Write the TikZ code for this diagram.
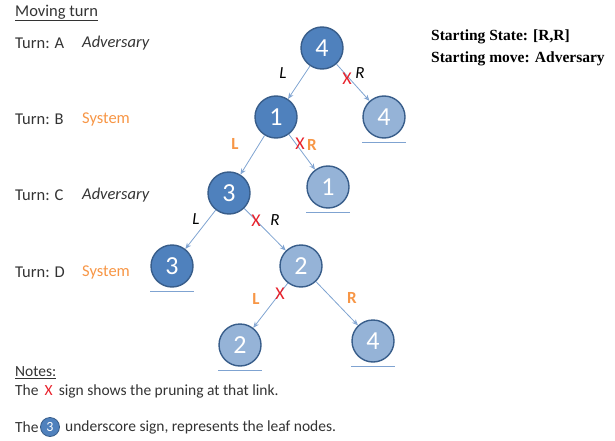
\documentclass[tikz,border=0pt]{standalone}
\usepackage{fontspec}
\setmainfont{Carlito}
\newfontfamily\headserif{Liberation Serif}
\usetikzlibrary{arrows.meta,calc}
\definecolor{darkfill}{HTML}{4F81BD}
\definecolor{lightfill}{HTML}{95B3D7}
\definecolor{nodeedge}{HTML}{385D8A}
\definecolor{linkcol}{HTML}{7FA3D1}
\definecolor{orangetxt}{HTML}{F79646}
\definecolor{redx}{HTML}{E8202A}
\tikzset{
  darknode/.style={circle,fill=darkfill,draw=nodeedge,line width=1.4pt,minimum size=42pt,inner sep=0pt,text=white,font=\fontsize{26}{26}\selectfont},
  lightnode/.style={darknode,fill=lightfill},
  link/.style={draw=linkcol,line width=0.8pt,-{Stealth[length=6pt,width=5pt,open]}},
  leafline/.style={draw=linkcol,line width=1pt},
  lbl/.style={font=\fontsize{17}{17}\selectfont\itshape,text=black},
  olbl/.style={font=\fontsize{17}{17}\selectfont\bfseries,text=orangetxt},
  xmark/.style={font=\fontsize{18}{18}\selectfont,text=redx},
  txt/.style={font=\fontsize{16.5}{16.5}\selectfont,anchor=west,inner sep=0pt,text=black!80},
  itxt/.style={txt,font=\fontsize{16.5}{16.5}\selectfont\itshape},
  ntxt/.style={txt,font=\fontsize{15.5}{15.5}\selectfont},
  hdr/.style={font=\headserif\bfseries\fontsize{15.5}{15.5}\selectfont,anchor=west,inner sep=0pt},
}
\begin{document}
\begin{tikzpicture}[x=1pt,y=-1pt]
\useasboundingbox (0,0) rectangle (615,441);
% tree nodes
\node[darknode] (r) at (322,48) {4};
\node[darknode] (b1) at (276,117) {1};
\node[lightnode] (b2) at (384,117) {4};
\node[darknode] (c1) at (229,193) {3};
\node[lightnode] (c2) at (328,187) {1};
\node[darknode] (d1) at (172,266) {3};
\node[lightnode] (d2) at (301,266) {2};
\node[lightnode] (e1) at (240,345) {2};
\node[lightnode] (e2) at (373,341) {4};
% links
\draw[link] (r) -- (b1);
\draw[link] (r) -- (b2);
\draw[link] (b1) -- (c1);
\draw[link] (b1) -- (c2);
\draw[link] (c1) -- (d1);
\draw[link] (c1) -- (d2);
\draw[link] (d2) -- (e1);
\draw[link] (d2) -- (e2);
% leaf underlines
\foreach \n in {b2,c2,d1,e1,e2}{
  \draw[leafline] ([xshift=-22pt,yshift=-4pt]\n.south) -- ([xshift=22pt,yshift=-4pt]\n.south);
}
% edge labels
\node[lbl] (l1) at (283,73) {L};
\node[lbl] (r1) at (360,73) {R};
\node[xmark] (x1) at (347,79) {X};
\node[olbl] (l2) at (235,144) {L};
\node[xmark] (x2) at (300,144) {X};
\node[olbl] (r2) at (312,145) {R};
\node[lbl] (l3) at (196,219) {L};
\node[xmark] (x3) at (256,221) {X};
\node[lbl] (r3) at (275,220) {R};
\node[olbl] (l4) at (256,299) {L};
\node[xmark] (x4) at (280,294) {X};
\node[olbl] (r4) at (352,298) {R};
% left texts
\node[txt] (mt) at (15,13) {\underline{Moving turn}};
\node[txt] (ta) at (15,43) {Turn: A};
\node[itxt] (aa) at (82,43) {Adversary};
\node[txt] (tb) at (15,119) {Turn: B};
\node[txt,text=orangetxt] (sb) at (82,119) {System};
\node[txt] (tc) at (15,195) {Turn: C};
\node[itxt] (ac) at (82,195) {Adversary};
\node[txt] (td) at (15,272) {Turn: D};
\node[txt,text=orangetxt] (sd) at (82,272) {System};
% header
\node[hdr] (h1) at (431,37) {Starting State: [R,R]};
\node[hdr] (h2) at (431,59) {Starting move: Adversary};
% notes
\node[ntxt] (nt) at (15,373) {\underline{Notes:}};
\node[ntxt] (n1) at (15,391) {The \,\textcolor{redx}{X}\, sign shows the pruning at that link.};
\node[ntxt] (n2a) at (15,427) {The};
\node[darknode,minimum size=19pt,line width=0.8pt,font=\fontsize{14}{14}\selectfont] (n2c) at (50,427) {3};
\node[ntxt] (n2b) at (65,427) {underscore sign, represents the leaf nodes.};
\end{tikzpicture}
\end{document}
